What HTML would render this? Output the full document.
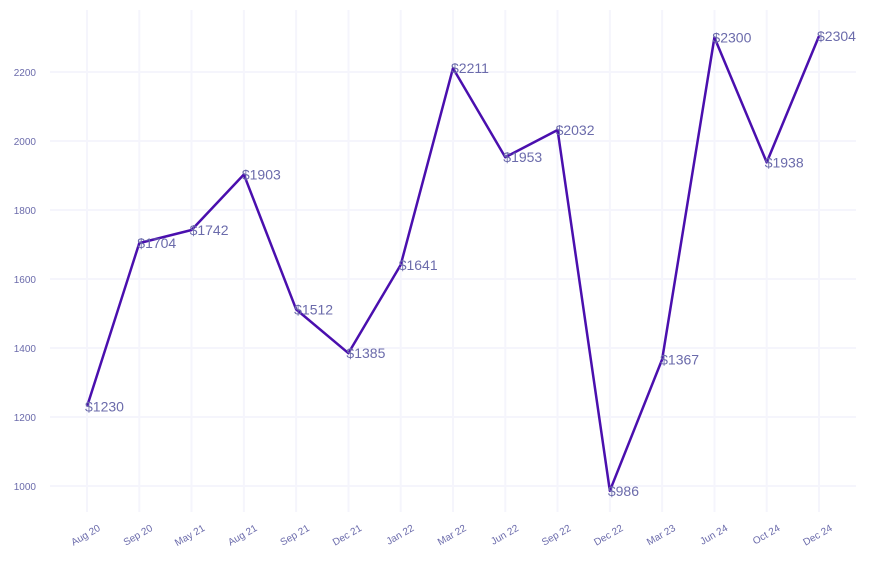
<!DOCTYPE html>
<html><head><meta charset="utf-8"><style>
html,body{margin:0;padding:0;background:#fff;}
svg{display:block;font-family:"Liberation Sans",sans-serif;}
</style></head><body>
<svg id="chart" width="873" height="565" viewBox="0 0 873 565">
<g id="grid"></g>
<g id="yaxis"></g>
<g id="xaxis"></g>
<g id="series"></g>
<g id="labels"></g>
</svg>
<script>
const categories = ["Aug 20","Sep 20","May 21","Aug 21","Sep 21","Dec 21","Jan 22","Mar 22","Jun 22","Sep 22","Dec 22","Mar 23","Jun 24","Oct 24","Dec 24"];
const values = [1230,1704,1742,1903,1512,1385,1641,2211,1953,2032,986,1367,2300,1938,2304];
const yTicks = [1000,1200,1400,1600,1800,2000,2200];

const NS = "http://www.w3.org/2000/svg";
const x0 = 87, x1 = 819;
const xScale = i => x0 + i*(x1-x0)/(categories.length-1);
const yScale = v => 486 - (v-1000)*0.345;
const mk = (tag, attrs, parent) => { const e = document.createElementNS(NS, tag); for (const k in attrs) e.setAttribute(k, attrs[k]); parent.appendChild(e); return e; };
const grid = document.getElementById('grid'), ya = document.getElementById('yaxis'), xa = document.getElementById('xaxis'), se = document.getElementById('series'), lb = document.getElementById('labels');

yTicks.forEach(t => {
  const y = yScale(t);
  const l = mk('line', {x1:50, x2:856, y1:y, y2:y, stroke:'#f5f5fc', 'stroke-width':2}, grid);
  
  
  const tx = mk('text', {x:36, y:y+4, 'text-anchor':'end', 'font-size':10, fill:'#6b6bab'}, ya);
  tx.textContent = t;
  
  
});
categories.forEach((c, i) => {
  const x = xScale(i);
  const l = mk('line', {x1:x, x2:x, y1:10, y2:512, stroke:'#f5f5fc', 'stroke-width':2}, grid);
  
  
  const tx = mk('text', {x:x+14, y:530, 'text-anchor':'end', 'font-size':10, fill:'#6b6bab', transform:`rotate(-30 ${x+14} 530)`}, xa);
  tx.textContent = c;
  
  
});
const pts = values.map((v, i) => xScale(i) + ',' + yScale(v)).join(' ');
const pl = mk('polyline', {points:pts, fill:'none', stroke:'#4a0fae', 'stroke-width':2.5, 'stroke-linejoin':'round'}, se);


values.forEach((v, i) => {
  const tx = mk('text', {x:xScale(i)-2, y:yScale(v)+5, 'font-size':14, fill:'#6b6bab'}, lb);
  tx.textContent = '$' + v;
  
  
});
</script>
</body></html>
